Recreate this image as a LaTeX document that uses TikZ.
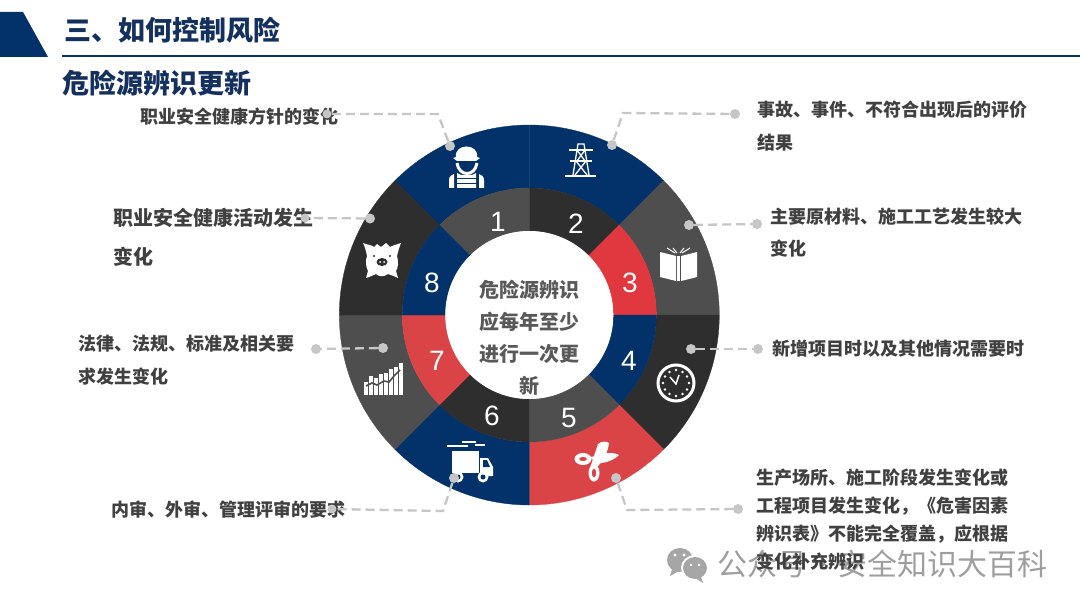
\documentclass[tikz,border=0pt]{standalone}
\usepackage{fontspec}
\setmainfont{Liberation Sans}
\newfontfamily\cjk{Noto Sans CJK SC}
\definecolor{navy}{HTML}{03326A}
\definecolor{titleblue}{HTML}{14305F}
\definecolor{darkseg}{HTML}{2E2E2E}
\definecolor{grayseg}{HTML}{4E4E4E}
\definecolor{redseg}{HTML}{DB4447}
\definecolor{pinkseg}{HTML}{E1373F}
\definecolor{leadergray}{HTML}{C4C6C8}
\definecolor{bodytext}{HTML}{404040}
\tikzset{
  title/.style={anchor=west, text=titleblue, font=\cjk\bfseries\fontsize{27}{32}\selectfont},
  label/.style={anchor=west, align=left, text=bodytext, inner sep=0pt, font=\cjk\bfseries\fontsize{18}{#1}\selectfont},
  label/.default=33,
  digit/.style={text=white, inner sep=0pt, font=\fontsize{28}{32}\selectfont},
  leader/.style={draw=leadergray, line width=2.3pt, dash pattern=on 9pt off 5pt},
  leaderdot/.style={circle, fill=leadergray, inner sep=0pt, minimum size=#1},
  leaderdot/.default=10pt,
  icon/.style={fill=white, draw=none},
}
\begin{document}
\begin{tikzpicture}[x=1pt, y=-1pt]
  \useasboundingbox (0,0) rectangle (1080,607);
  \fill[white] (0,0) rectangle (1080,607);

  % Header
  \fill[navy] (0,12) -- (23,12) -- (48,57) -- (0,57) -- cycle;
  \draw[navy, line width=2pt] (62,56) -- (1080,56);
  \node[title] (head) at (61,30) {三、如何控制风险};
  \node[title] (sub) at (59,83) {危险源辨识更新};

  % Ring
  \begin{scope}[shift={(529.3,315)}, y=1pt]
    \foreach \a/\c in {45/navy,90/navy,0/grayseg,-45/darkseg,-90/redseg,-135/navy,180/grayseg,135/darkseg}
      \filldraw[fill=\c, draw=\c, line width=.3pt] (\a:127) -- (\a:190) arc[start angle=\a, delta angle=45, radius=190] -- ({\a+45}:127) arc[start angle=\a+45, delta angle=-45, radius=127] -- cycle;
    \foreach \a/\c in {90/grayseg,45/darkseg,0/pinkseg,-45/navy,-90/grayseg,-135/darkseg,180/redseg,135/navy}
      \filldraw[fill=\c, draw=\c, line width=.3pt] (\a:84) -- (\a:127) arc[start angle=\a, delta angle=45, radius=127] -- ({\a+45}:84) arc[start angle=\a+45, delta angle=-45, radius=84] -- cycle;
    \fill[white] (0,0) circle[radius=84];
  \end{scope}

  % Numbers
  \foreach \x/\y/\n in {498/222/1,576/224/2,630/283/3,629/361/4,569/418/5,492/416/6,437/361/7,432/283/8}
    \node[digit] (n\n) at (\x,\y) {\n};

  % Centre text
  \node[align=center, text=black!65, inner sep=0pt, font=\cjk\bfseries\fontsize{20}{32}\selectfont] (centre) at (529,338)
    {危险源辨识\\应每年至少\\进行一次更\\新};

  % Worker
  \fill[icon] (453,158) -- (456,157) .. controls (454,143) and (479,143) .. (477,157) -- (480,158) -- (476,161) -- (457,161) -- cycle;
  \draw[white, line width=3pt] (457,163) .. controls (459,177) and (475,177) .. (477,163);
  \fill[icon] (449,188) -- (449,180) .. controls (449,176) and (452,175) .. (454,174) -- (454,188) -- cycle;
  \fill[icon] (484,188) -- (484,180) .. controls (484,176) and (481,175) .. (479,174) -- (479,188) -- cycle;
  \fill[icon] (457,173) -- (461,175) -- (472,175) -- (476,173) -- (476,188) -- (457,188) -- cycle;
  \foreach \y in {179,184}
    \draw[navy, line width=1pt] (456,\y) -- (477,\y);

  % Pylon
  \begin{scope}[white, line width=1.3pt]
    \draw[line width=1.8pt] (565,176) -- (596,176);
    \draw (573,175) -- (578,144) -- (584,144) -- (589,175);
    \draw (569,150) -- (593,150) (570,161) -- (592,161);
    \draw (577,150) -- (585,161) (585,150) -- (577,161) (576,161) -- (587,175) (586,161) -- (575,175);
  \end{scope}

  % Book
  \fill[icon] (660,252) -- (676,256) -- (676,281) -- (660,277) -- cycle;
  \fill[icon] (697,252) -- (681,256) -- (681,281) -- (697,277) -- cycle;
  \fill[icon] (677,256) -- (680,256) -- (680,281) -- (677,281) -- cycle;
  \draw[white, line width=1pt] (667,248) -- (675,253) (673,248) -- (677,253) (690,248) -- (682,253) (684,248) -- (680,253);

  % Clock
  \draw[white, line width=3pt] (676,383) circle[radius=18];
  \foreach \x/\y in {676/370,676/396,663/383,689/383,669.5/372,682.5/372,669.5/394,682.5/394,665/376.5,687/376.5,665/389.5,687/389.5}
    \fill[white] (\x,\y) circle[radius=1.3];
  \draw[white, line width=1.5pt] (670,377) -- (676,384) -- (679,375);

  % Scissors
  \fill[white, even odd rule] (583,459) ellipse[x radius=8.5, y radius=6] (583,459) ellipse[x radius=4, y radius=2.2]
    (594,473) ellipse[x radius=5.5, y radius=8.5] (594,473) ellipse[x radius=2.3, y radius=4.5];
  \fill[icon] (590,468) -- (598,444) .. controls (602,441) and (606,441) .. (609,443) .. controls (608,452) and (603,462) .. (596,468) -- cycle;
  \fill[icon] (590,457) .. controls (597,457) and (600,452) .. (607,453) .. controls (610,453) and (616,453) .. (619,455) .. controls (614,460) and (604,464) .. (596,463) -- cycle;

  % Truck
  \fill[icon] (452,451) -- (479,451) -- (479,473) -- (452,473) -- cycle;
  \fill[icon] (480,458) -- (488,458) -- (493,467) -- (493,476) -- (480,476) -- cycle;
  \fill[navy] (483,460) -- (487,460) -- (490,467) -- (483,467) -- cycle;
  \draw[white, line width=1.5pt] (447,446) -- (468,446) (462,442) -- (476,442) (475,445) -- (485,445);
  \foreach \x in {458,483} {
    \fill[white] (\x,477) circle[radius=5.5];
    \fill[navy] (\x,477) circle[radius=2.5];
  }

  % Chart
  \foreach \x/\y in {364/382,369/376,374/378,379/374,384/373,389/369,394/367,399/363}
    \fill[icon] (\x,\y) rectangle ({\x+3.8},395);
  \draw[grayseg, line width=1.6pt] (366,386) -- (372,383) -- (377,385) -- (384,381) -- (389,382) -- (394,376) -- (400,370);

  % Pig
  \fill[icon] (363,243) .. controls (368,245) and (372,245) .. (374,247) -- (377,244) -- (381,247) -- (386,243) -- (390,247) .. controls (394,245) and (398,244) .. (401,243)
    .. controls (399,248) and (398,252) .. (397,256) .. controls (399,262) and (398,268) .. (396,271) -- (398,278)
    .. controls (394,276) and (391,275) .. (388,274) .. controls (384,277) and (379,277) .. (376,274) .. controls (373,275) and (370,277) .. (366,278)
    -- (368,271) .. controls (366,267) and (365,261) .. (367,256) .. controls (366,251) and (365,247) .. (363,243) -- cycle;
  \fill[darkseg] (382,262) ellipse[x radius=5.5, y radius=4];
  \fill[white] (380,262) circle[radius=1] (384,262) circle[radius=1];
  \fill[darkseg] (374,256) circle[radius=1.2] (390,256) circle[radius=1.2];

  % Watermark
  \begin{scope}[black!35]
    \fill (680,560) ellipse[x radius=13, y radius=12];
    \fill (672,569) -- (670,576) -- (679,571) -- cycle;
    \fill[white] (695,568) ellipse[x radius=14, y radius=13];
    \fill (695,568) ellipse[x radius=12, y radius=11];
    \fill (701,577) -- (703,583) -- (695,578) -- cycle;
    \fill[white] (675,555) circle[radius=1.6] (684,555) circle[radius=1.6] (691,565) circle[radius=1.4] (699,565) circle[radius=1.4];
  \end{scope}
  \node[anchor=west, inner sep=0pt, text=black!38, font=\cjk\fontsize{30}{34}\selectfont] (wm) at (717,564) {公众号\makebox[30pt]{·}安全知识大百科};

  % Labels
  \node[label] (t1) at (140,117) {职业安全健康方针的变化};
  \node[label] (t2) at (757,126) {事故、事件、不符合出现后的评价\\结果};
  \node[label=32] (t3) at (770,233) {主要原材料、施工工艺发生较大\\变化};
  \node[label] (t4) at (772,348.5) {新增项目时以及其他情况需要时};
  \node[label=28] (t5) at (756,520) {生产场所、施工阶段发生变化或\\工程项目发生变化，《危害因素\\辨识表》不能完全覆盖，应根据\\变化补充辨识};
  \node[label] (t6) at (111,510) {内审、外审、管理评审的要求};
  \node[label] (t7) at (78,360) {法律、法规、标准及相关要\\求发生变化};
  \node[anchor=west, align=left, text=bodytext, inner sep=0pt, font=\cjk\bfseries\fontsize{20}{39}\selectfont] (t8) at (113,237.5) {职业安全健康活动发生\\变化};

  % Leaders
  \node[leaderdot] (a1) at (450,146) {};
  \node[leaderdot=9pt] (b1) at (327,114) {};
  \coordinate (c1) at (438,114);
  \draw[leader] (a1) -- (c1) -- (b1);

  \node[leaderdot] (a2) at (612,145) {};
  \node[leaderdot] (b2) at (735,114) {};
  \coordinate (c2) at (623,113);
  \draw[leader] (a2) -- (c2) -- (b2);

  \node[leaderdot] (a3) at (689,225) {};
  \node[leaderdot] (b3) at (757,224) {};
  \draw[leader] (a3) -- (b3);

  \node[leaderdot] (a4) at (691,349) {};
  \node[leaderdot] (b4) at (758,349) {};
  \draw[leader] (a4) -- (b4);

  \node[leaderdot] (a5) at (616,478) {};
  \node[leaderdot] (b5) at (738,509) {};
  \coordinate (c5) at (627,510);
  \draw[leader] (a5) -- (c5) -- (b5);

  \node[leaderdot] (a6) at (454,478) {};
  \node[leaderdot=9pt] (b6) at (332,509) {};
  \coordinate (c6) at (443,511);
  \draw[leader] (a6) -- (c6) -- (b6);

  \node[leaderdot] (a7) at (383,348) {};
  \node[leaderdot] (b7) at (316,349) {};
  \draw[leader] (a7) -- (b7);

  \node[leaderdot] (a8) at (370,218.5) {};
  \node[leaderdot=9pt] (b8) at (305,218) {};
  \draw[leader] (a8) -- (b8);
\end{tikzpicture}
\end{document}
